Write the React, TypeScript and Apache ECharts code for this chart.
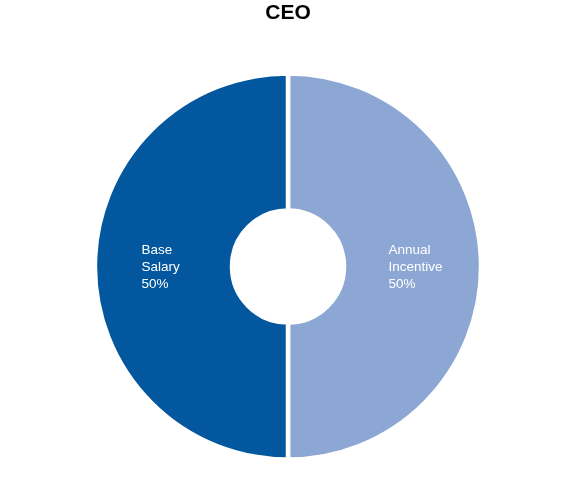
import React, { useEffect, useRef } from "react";
import * as echarts from "echarts";

const title = "CEO";
const categories = ["Annual Incentive", "Base Salary"];
const labelLines = [["Annual", "Incentive"], ["Base", "Salary"]];
const values = [50, 50];
const colors = ["#8DA7D4", "#02579E"];

export default function App() {
  const ref = useRef<HTMLDivElement>(null);
  useEffect(() => {
    if (!ref.current) return;
    const chart = echarts.init(ref.current, null, { renderer: "svg" });
    const total = values.reduce((a, b) => a + b, 0);
    chart.setOption({
      animation: false,
      title: {
        text: title,
        left: "center",
        top: -4,
        textStyle: { fontFamily: "Arial, Liberation Sans", fontSize: 21, fontWeight: "bold", color: "#000" },
      },
      series: [
        {
          type: "pie",
          center: [288, 266.5],
          radius: [56, 193],
          startAngle: 90,
          clockwise: true,
          data: categories.map((c, i) => ({
            name: c,
            value: values[i],
            itemStyle: { color: colors[i] },
            label: {
              formatter: () =>
                [...labelLines[i], Math.round((values[i] / total) * 100) + "%"]
                  .map((s) => "{a|" + s + "}")
                  .join("\n"),
            },
          })),
          itemStyle: { borderColor: "#fff", borderWidth: 4.5 },
          label: {
            show: true,
            position: "inside",
            color: "#fff",
            fontFamily: "Arial, Liberation Sans",
            fontSize: 13.5,
            lineHeight: 17,
            rich: {
              a: { align: "left", color: "#fff", fontFamily: "Arial, Liberation Sans", fontSize: 13.5, lineHeight: 17 },
            },
          },
          labelLine: { show: false },
          emphasis: { disabled: true },
        },
      ],
    });
    return () => chart.dispose();
  }, []);
  return <div ref={ref} style={{ position: "fixed", left: 0, top: 0, width: 576, height: 480 }} />;
}
